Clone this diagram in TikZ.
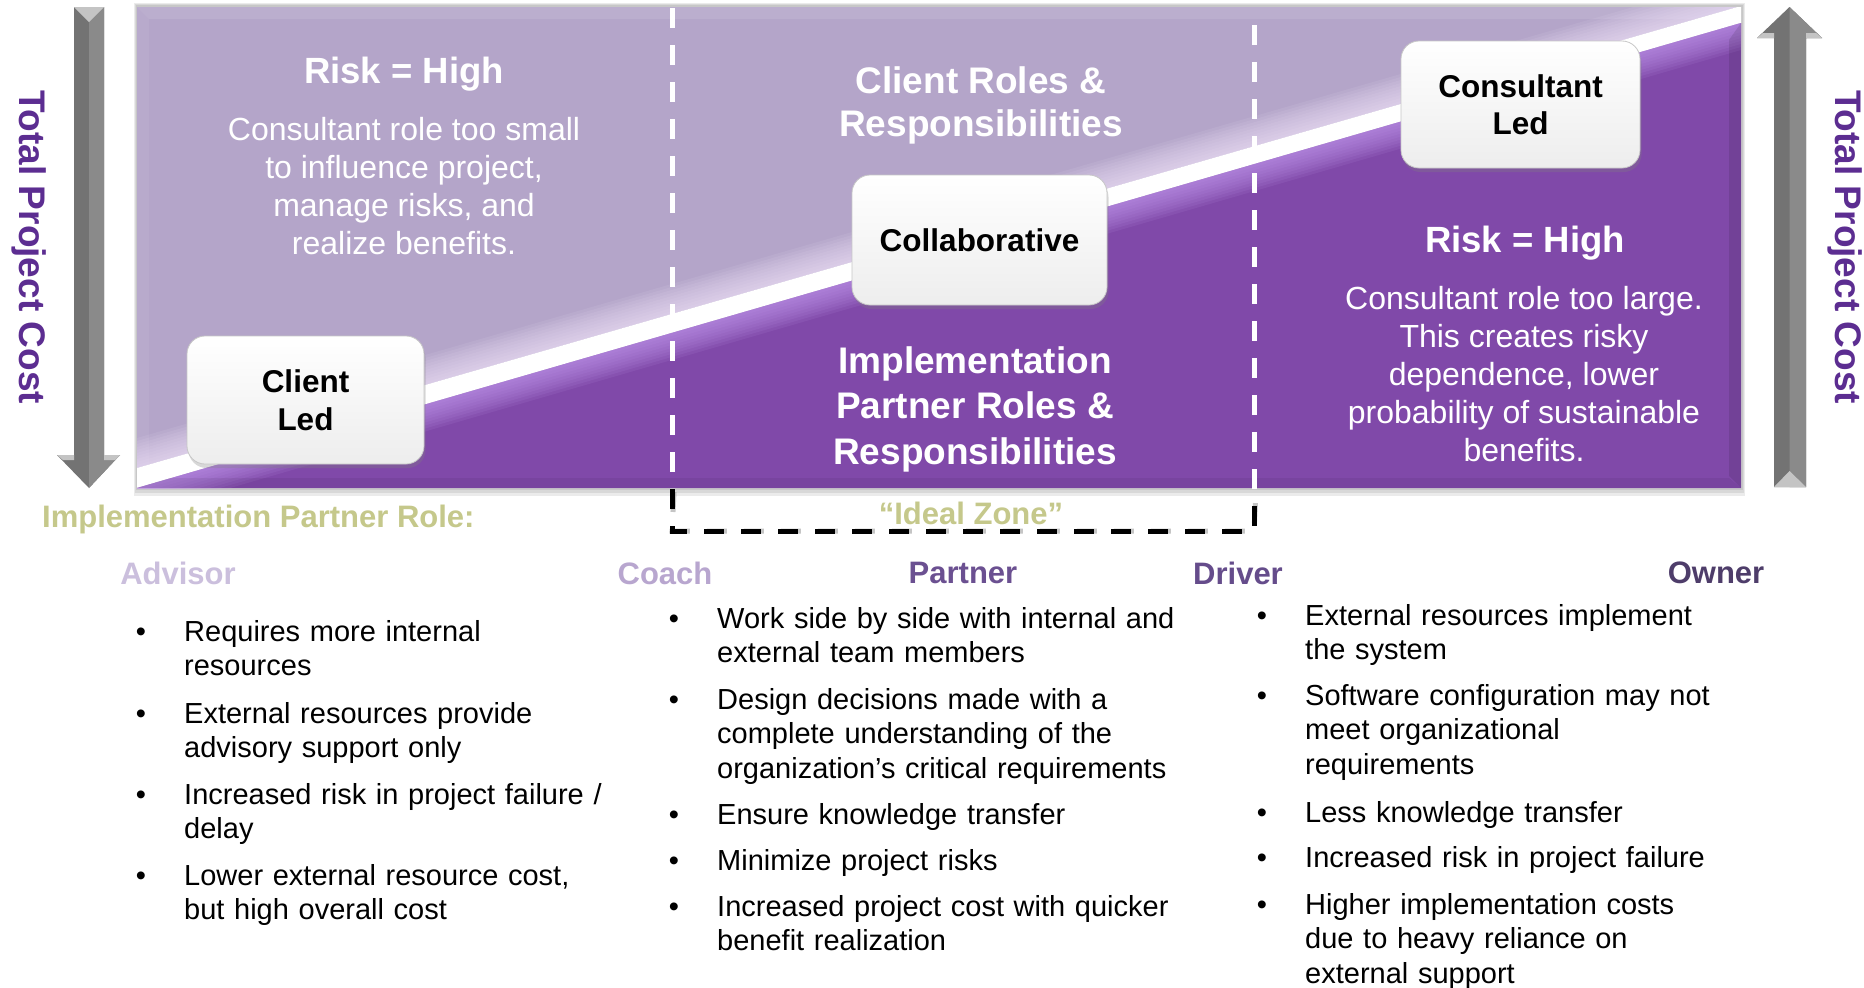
\documentclass[tikz,border=0pt]{standalone}
\usepackage{fontspec}
\setmainfont{Liberation Sans}
\usetikzlibrary{shadows}
\definecolor{panelL}{HTML}{B4A5C9}
\definecolor{panelD}{HTML}{8049A9}
\definecolor{glowD}{HTML}{C59CF0}
\definecolor{glowL}{HTML}{F6E8FF}
\definecolor{costc}{HTML}{5C2D91}
\definecolor{olive}{HTML}{C5C88B}
\definecolor{advc}{HTML}{CBBFDD}
\definecolor{coachc}{HTML}{B8A6CF}
\definecolor{partc}{HTML}{6B5091}
\definecolor{drivc}{HTML}{654C8B}
\definecolor{ownc}{HTML}{4E3D6A}
\definecolor{arrowA}{HTML}{737373}
\definecolor{arrowB}{HTML}{8A8A8A}
\definecolor{arrowC}{HTML}{C4C4C4}
\newcommand{\fsz}[2]{\fontsize{#1bp}{#2bp}\selectfont}
\tikzset{
  titlew/.style={text=white, font=\bfseries\fsz{37}{43}, align=center, inner sep=0pt},
  descw/.style={text=white, font=\fsz{32}{38}, align=center, inner sep=0pt},
  rolebox/.style={rounded corners=18bp, top color=white, bottom color=black!7,
    draw=black!22, line width=0.8bp, align=center, inner sep=0pt,
    font=\bfseries\fsz{31.5}{37.5}, text=black,
    drop shadow={shadow xshift=1.5bp, shadow yshift=-4bp, opacity=0.3}},
  rolelabel/.style={font=\bfseries\fsz{31}{36}, inner sep=0pt},
  bul/.style={font=\fsz{29}{34.5}, inner sep=0pt, anchor=base},
  itemtxt/.style={font=\fsz{29}{34.5}, inner sep=0pt, anchor=base west,
    text width=480bp, align=left},
  costlbl/.style={text=costc, font=\bfseries\fsz{37}{40}, rotate=-90, inner sep=0pt},
  zone/.style={line width=5bp, dash pattern=on 20bp off 17bp}
}
\begin{document}
\begin{tikzpicture}[x=1bp, y=1bp]
\useasboundingbox (0,0) rectangle (1864,-987);
\fill[white] (0,0) rectangle (1864,-987);

% ---- panel shadow
\fill[black, opacity=0.08] (134,-3) rectangle (1745,-496);
\fill[black, opacity=0.08] (135,-4) rectangle (1744,-493);
\fill[black, opacity=0.08] (136,-5) rectangle (1743,-490);

% ---- panel
\begin{scope}
  \clip (137,-7) rectangle (1741,-488);
  \fill[panelL] (137,-7) rectangle (1741,-488);
  % bevel of the light frame
  \fill[white, opacity=0.10] (137,-7) -- (1741,-7) -- (1729,-19) -- (149,-19) -- cycle;
  \fill[white, opacity=0.06] (137,-7) -- (149,-19) -- (149,-488) -- (137,-488) -- cycle;
  % glow above the white stripe
  \foreach \d in {3,6,...,30} {
    \fill[glowL, opacity=0.09] (137,-468) -- (1741,-6) -- (1741,{-6+\d}) -- (137,{-468+\d}) -- cycle;
  }
  % white stripe
  \fill[white] (137,-468) -- (1741,-6) -- (1741,-488) -- (137,-488) -- cycle;
  % dark region
  \fill[panelD] (137,-488) -- (1741,-23) -- (1741,-488) -- cycle;
  \foreach \d in {3,6,...,27} {
    \fill[glowD, opacity=0.11] (137,-488) -- (1741,-23) -- (1741,{-23-\d}) -- (137,{-488-\d}) -- cycle;
  }
  % bevel of the dark region
  \fill[black, opacity=0.10] (1741,-23) -- (1741,-488) -- (1729,-476) -- (1729,-40) -- cycle;
  \fill[black, opacity=0.06] (137,-488) -- (1741,-488) -- (1729,-478) -- (170,-478) -- cycle;
\end{scope}

% ---- ideal zone (dashed frame)
\coordinate (zTL) at (672,-8);
\coordinate (zBL) at (672,-531);
\coordinate (zBR) at (1254,-531);
\coordinate (zTR) at (1254,-8);
\draw[zone, black!45, opacity=0.5, shift={(2bp,-4bp)}] (672,-488) -- (zBL) -- (zBR) -- (1254,-488);
\draw[zone, black] (zTL) -- (zBL) -- (zBR) -- (zTR);
\begin{scope}
  \clip (137,-7) rectangle (1741,-488);
  \draw[zone, white] (zTL) -- (zBL) -- (zBR) -- (zTR);
\end{scope}

% ---- gray arrows
% left, pointing down
\fill[arrowA] (74,-7) -- (104,-7) -- (104,-455) -- (120,-455) -- (89,-488) -- (57,-455) -- (74,-455) -- cycle;
\fill[arrowB] (89,-7) -- (104,-7) -- (104,-455) -- (120,-455) -- (89,-488) -- cycle;
\fill[arrowC] (74,-7) -- (104,-7) -- (89,-22) -- cycle;
\fill[arrowC] (57,-455) -- (74,-455) -- (74,-460) -- (63,-460) -- cycle;
\fill[arrowC] (120,-455) -- (104,-455) -- (104,-460) -- (115,-460) -- cycle;
% right, pointing up
\fill[arrowA] (1774,-487) -- (1774,-38) -- (1757,-38) -- (1789.5,-7) -- (1822,-38) -- (1806,-38) -- (1806,-487) -- cycle;
\fill[arrowB] (1789.5,-487) -- (1789.5,-7) -- (1822,-38) -- (1806,-38) -- (1806,-487) -- cycle;
\fill[arrowC] (1774,-487) -- (1806,-487) -- (1789.5,-471) -- cycle;
\fill[arrowC] (1757,-38) -- (1774,-38) -- (1774,-33) -- (1763,-33) -- cycle;
\fill[arrowC] (1822,-38) -- (1806,-38) -- (1806,-33) -- (1816,-33) -- cycle;

\node[costlbl] (costL) at (29,-247) {Total Project Cost};
\node[costlbl] (costR) at (1845,-247) {Total Project Cost};

% ---- texts on the panel
\node[titlew, font=\bfseries\fsz{36.5}{42}] (riskL) at (404,-74) {Risk = High};
\node[descw] (descL) at (404,-186) {Consultant role too small\\to influence project,\\manage risks, and\\realize benefits.};
\node[titlew] (clientrr) at (981,-105) {Client Roles \&\\Responsibilities};
\node[titlew, font=\bfseries\fsz{37}{45.5}] (implrr) at (975,-409) {Implementation\\Partner Roles \&\\Responsibilities};
\node[titlew, font=\bfseries\fsz{36.5}{42}] (riskR) at (1525,-243) {Risk = High};
\node[descw] (descR) at (1524,-374) {Consultant role too large.\\This creates risky\\dependence, lower\\probability of sustainable\\benefits.};

% ---- role boxes
\node[rolebox, minimum width=237bp, minimum height=128bp] (clientled) at (305.5,-400) {Client\\Led};
\node[rolebox, minimum width=255bp, minimum height=130bp] (collab) at (979.5,-240) {Collaborative};
\node[rolebox, minimum width=239bp, minimum height=127bp, font=\bfseries\fsz{31.5}{37}] (consled) at (1520.5,-104.5) {Consultant\\Led};

% ---- bottom labels
\node[rolelabel, text=olive, anchor=west] (iprole) at (42,-519) {Implementation Partner Role:};
\node[rolelabel, text=olive] (ideal) at (971,-513) {“Ideal Zone”};
\node[rolelabel, text=advc] (advisor) at (178,-573) {Advisor};
\node[rolelabel, text=coachc] (coach) at (665,-573) {Coach};
\node[rolelabel, text=partc] (partner) at (963,-573) {Partner};
\node[rolelabel, text=drivc] (driver) at (1238,-573) {Driver};
\node[rolelabel, text=ownc] (owner) at (1716,-573) {Owner};

% ---- column 1
\node[bul] (b11) at (141,-641) {•};
\node[itemtxt] (t11) at (184,-641) {Requires more internal\\resources};
\node[bul] (b12) at (141,-723) {•};
\node[itemtxt] (t12) at (184,-723) {External resources provide\\advisory support only};
\node[bul] (b13) at (141,-804) {•};
\node[itemtxt] (t13) at (184,-804) {Increased risk in project failure /\\delay};
\node[bul] (b14) at (141,-885) {•};
\node[itemtxt] (t14) at (184,-885) {Lower external resource cost,\\but high overall cost};

% ---- column 2
\node[bul] (b21) at (674,-628) {•};
\node[itemtxt] (t21) at (717,-628) {Work side by side with internal and\\external team members};
\node[bul] (b22) at (674,-709) {•};
\node[itemtxt] (t22) at (717,-709) {Design decisions made with a\\complete understanding of the\\organization’s critical requirements};
\node[bul] (b23) at (674,-824) {•};
\node[itemtxt] (t23) at (717,-824) {Ensure knowledge transfer};
\node[bul] (b24) at (674,-870) {•};
\node[itemtxt] (t24) at (717,-870) {Minimize project risks};
\node[bul] (b25) at (674,-916) {•};
\node[itemtxt] (t25) at (717,-916) {Increased project cost with quicker\\benefit realization};

% ---- column 3
\node[bul] (b31) at (1262,-625) {•};
\node[itemtxt] (t31) at (1305,-625) {External resources implement\\the system};
\node[bul] (b32) at (1262,-705) {•};
\node[itemtxt] (t32) at (1305,-705) {Software configuration may not\\meet organizational\\requirements};
\node[bul] (b33) at (1262,-822) {•};
\node[itemtxt] (t33) at (1305,-822) {Less knowledge transfer};
\node[bul] (b34) at (1262,-867) {•};
\node[itemtxt] (t34) at (1305,-867) {Increased risk in project failure};
\node[bul] (b35) at (1262,-914) {•};
\node[itemtxt] (t35) at (1305,-914) {Higher implementation costs\\due to heavy reliance on\\external support};
\end{tikzpicture}
\end{document}
